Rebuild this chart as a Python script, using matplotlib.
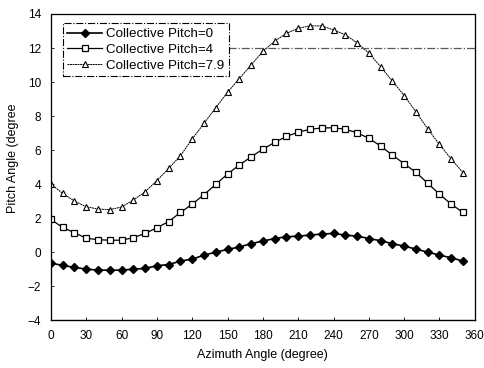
import matplotlib
matplotlib.use("Agg")
import matplotlib.pyplot as plt

plt.rcParams['font.family'] = ['Liberation Sans', 'DejaVu Sans']

# azimuth angle, every 10 degrees
azimuth = list(range(0, 360, 10))

pitch_0 = [-0.65, -0.78, -0.9, -1.0, -1.06, -1.06, -1.06, -1.0, -0.96, -0.8,
           -0.73, -0.53, -0.41, -0.18, 0.0, 0.16, 0.3, 0.5, 0.65, 0.8,
           0.9, 0.94, 1.0, 1.06, 1.1, 1.0, 0.94, 0.8, 0.67, 0.5,
           0.35, 0.18, 0.0, -0.18, -0.33, -0.53]

pitch_4 = [1.92, 1.45, 1.14, 0.82, 0.73, 0.7, 0.7, 0.85, 1.1, 1.43,
           1.8, 2.33, 2.82, 3.38, 3.98, 4.59, 5.12, 5.6, 6.05, 6.45,
           6.8, 7.05, 7.22, 7.3, 7.31, 7.22, 7.02, 6.69, 6.24, 5.7,
           5.2, 4.69, 4.05, 3.4, 2.82, 2.33]

pitch_79 = [4.0, 3.45, 3.0, 2.67, 2.53, 2.5, 2.65, 3.06, 3.55, 4.2,
            4.92, 5.67, 6.65, 7.57, 8.49, 9.4, 10.2, 11.0, 11.8, 12.4,
            12.86, 13.16, 13.3, 13.3, 13.06, 12.78, 12.3, 11.7, 10.9, 10.06,
            9.2, 8.25, 7.24, 6.33, 5.47, 4.67]

xticks = list(range(0, 361, 30))
yticks = list(range(-4, 15, 2))

fig = plt.figure(figsize=(4.85, 3.68), dpi=100)
ax = fig.add_axes([0.105, 0.130, 0.874, 0.832])

ax.plot(azimuth, pitch_0, color='black', lw=1.2, marker='D', ms=4.2,
        mfc='black', mec='black', label='Collective Pitch=0')
ax.plot(azimuth, pitch_4, color='black', lw=0.9, marker='s', ms=4.8,
        mfc='white', mec='black', mew=0.9, label='Collective Pitch=4')
ax.plot(azimuth, pitch_79, color='black', lw=0.7, ls=(0, (2, 0.6)), marker='^', ms=5,
        mfc='white', mec='black', mew=0.8, label='Collective Pitch=7.9')

# leftover dash-dot line from the scan
ax.hlines(12, 150, 360, colors='0.35', linestyles='dashdot', lw=0.9)

ax.set_xlim(0, 360)
ax.set_ylim(-4, 14)
ax.set_xticks(xticks)
ax.set_yticks(yticks)
ax.tick_params(direction='in', length=2, width=0.6, labelsize=8.5, pad=7)

for side in ['top', 'right', 'left']:
    ax.spines[side].set_linestyle((0, (1, 0.8)))
    ax.spines[side].set_linewidth(0.9)
ax.spines['bottom'].set_linestyle((0, (6, 1)))
ax.spines['bottom'].set_linewidth(1.0)

ax.set_xlabel('Azimuth Angle (degree)', fontsize=9, labelpad=5)
ax.set_ylabel('Pitch Angle (degree', fontsize=9)
ax.yaxis.set_label_coords(-0.075, 0.53)

leg = ax.legend(loc='upper left', bbox_to_anchor=(0.028, 0.97), borderaxespad=0,
                fontsize=9.6, fancybox=False, framealpha=1, handlelength=2.6,
                handletextpad=0.3, labelspacing=0.25, borderpad=0.35)
leg.get_frame().set_edgecolor('black')
leg.get_frame().set_linestyle('dashdot')
leg.get_frame().set_linewidth(0.8)
leg.set_zorder(5)

fig.savefig('out.png', dpi=100)
